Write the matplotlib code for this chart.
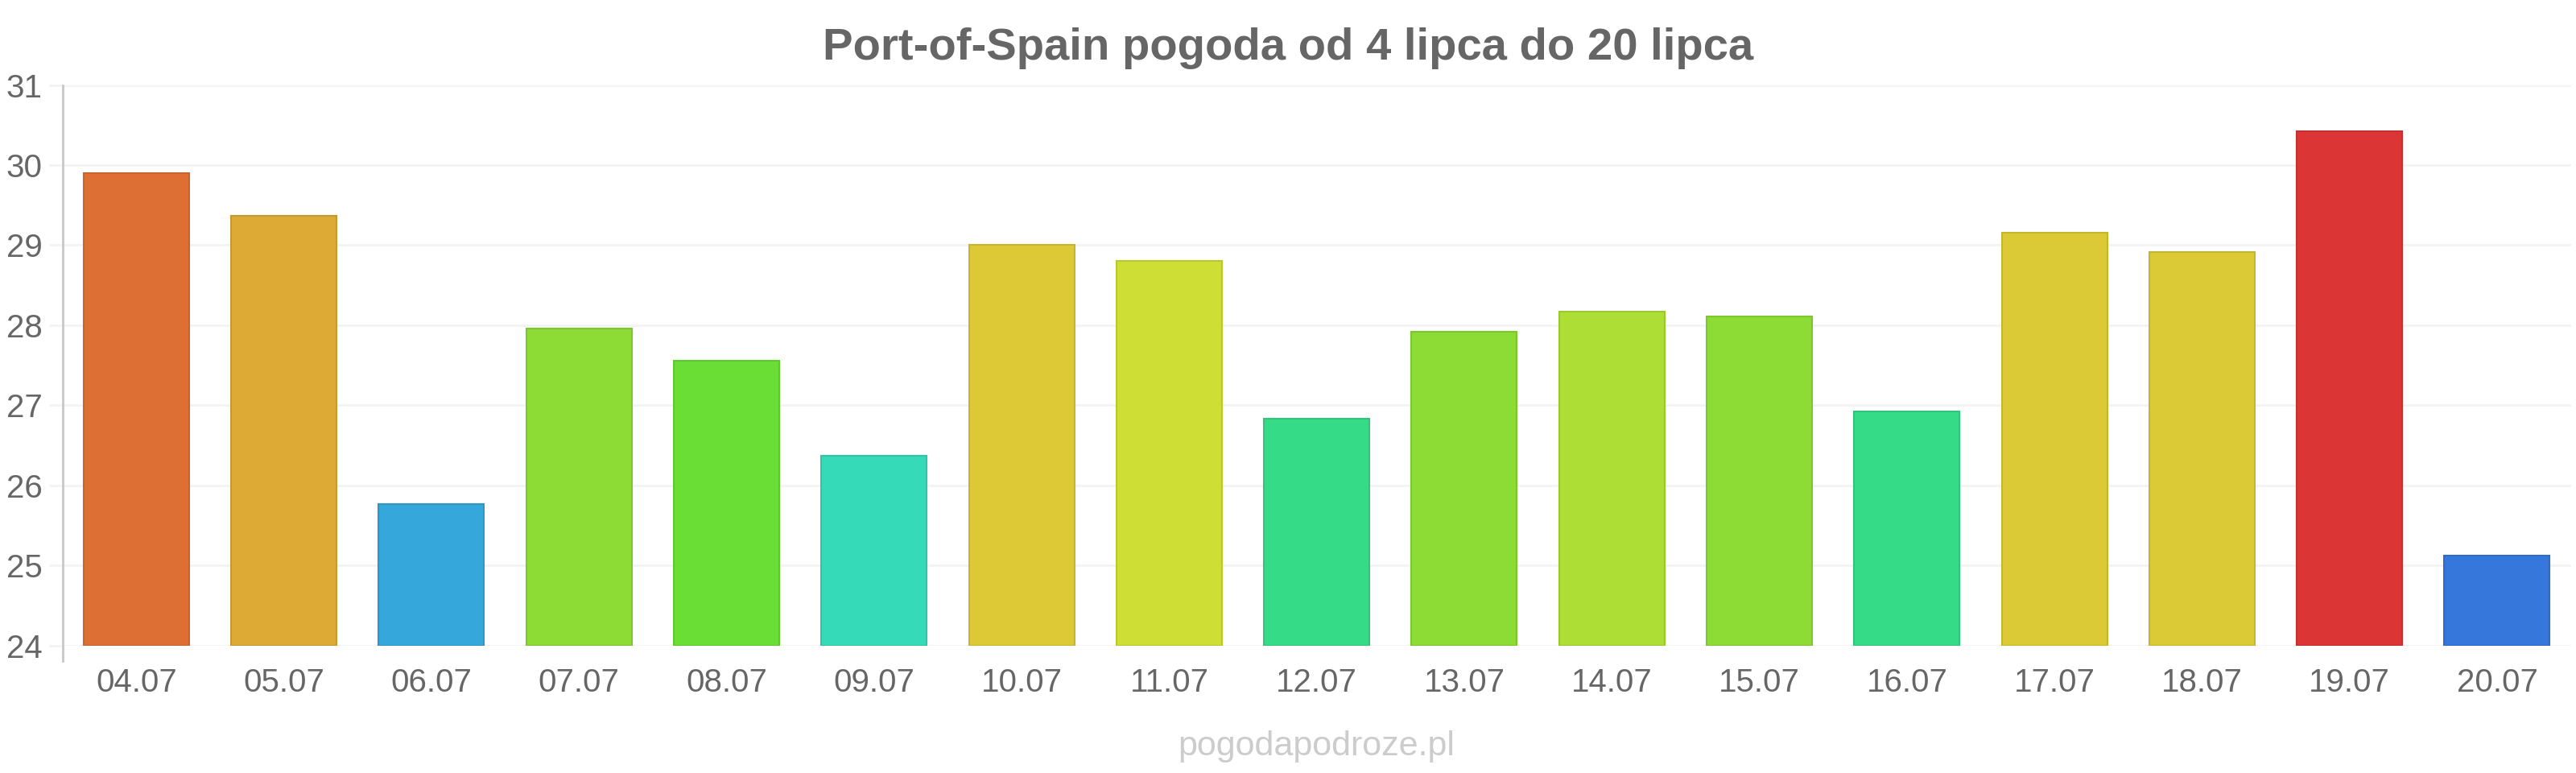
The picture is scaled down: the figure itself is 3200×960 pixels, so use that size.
import numpy as np
import matplotlib
matplotlib.use("Agg")
import matplotlib.pyplot as plt

plt.rcParams['font.family'] = ['Liberation Sans', 'DejaVu Sans']

# data
days = ["04.07", "05.07", "06.07", "07.07", "08.07", "09.07", "10.07", "11.07", "12.07",
        "13.07", "14.07", "15.07", "16.07", "17.07", "18.07", "19.07", "20.07"]
temps = [29.9, 29.37, 25.77, 27.96, 27.56, 26.37, 29.0, 28.8, 26.83,
         27.92, 28.17, 28.11, 26.92, 29.16, 28.91, 30.42, 25.12]
colors = ["#dd6f35", "#dcaa35", "#35a7db", "#8cdc35", "#6ade35", "#35dbb9", "#dcc935", "#cfde35", "#35db87",
          "#8cdc35", "#acde35", "#8cdc35", "#35db87", "#dbca35", "#dbca35", "#db3535", "#3577db"]
title = "Port-of-Spain pogoda od 4 lipca do 20 lipca"
watermark = "pogodapodroze.pl"


def darker(c, f=0.9):
    rgb = np.array(matplotlib.colors.to_rgb(c)) * f
    return tuple(rgb)


fig = plt.figure(figsize=(32, 9.6), dpi=100)
ax = fig.add_axes([0.0243, 0.165, 0.9737, 0.725])

x = np.arange(len(days))
ax.bar(x, np.array(temps) - 24, bottom=24, width=0.715, color=colors,
       edgecolor=[darker(c) for c in colors], linewidth=1.5, zorder=3)

ax.set_xlim(-0.5, len(days) - 0.5)
ax.set_ylim(24, 31)
ax.set_yticks(range(24, 32))
ax.set_xticks(x)
ax.set_xticklabels(days)

ax.grid(axis='y', color='#f3f3f3', linewidth=2, zorder=0)
for s in ['top', 'right', 'bottom']:
    ax.spines[s].set_visible(False)
ax.spines['left'].set_color('#c8c8c8')
ax.spines['left'].set_linewidth(2)
ax.spines['left'].set_bounds(23.8, 31)

ax.tick_params(axis='y', length=12, width=2, color='#f3f3f3', labelsize=29, labelcolor='#666666', pad=6)
ax.tick_params(axis='x', length=0, labelsize=29, labelcolor='#666666', pad=20)

fig.text(0.5, 0.938, title, ha='center', va='center', fontsize=40.5, fontweight='bold', color='#666666')
fig.text(0.511, 0.034, watermark, ha='center', va='center', fontsize=31, color='#cccccc')

fig.savefig("out.png", dpi=100, facecolor='white')
